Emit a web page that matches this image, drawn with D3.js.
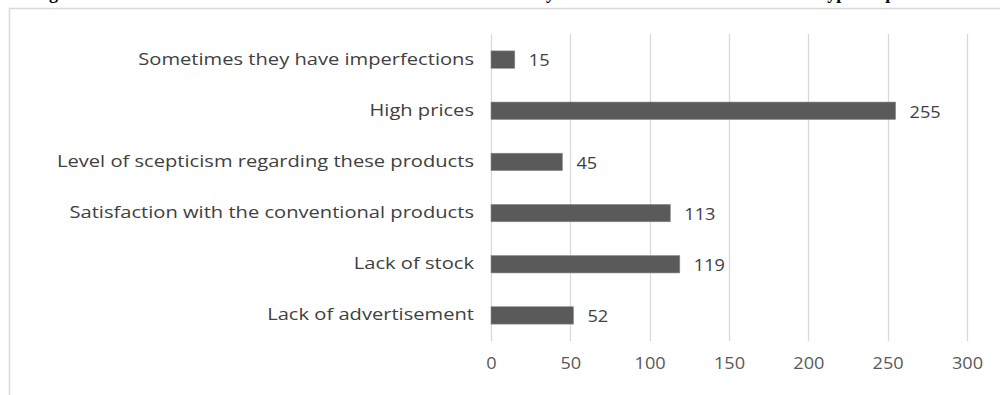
<!DOCTYPE html>
<html>
<head>
<meta charset="utf-8">
<script src="https://cdn.jsdelivr.net/npm/d3@7"></script>
<style>
  html, body { margin: 0; padding: 0; background: #fff; }
  svg { display: block; }
</style>
</head>
<body>
<div id="chart"></div>
<script>
// Reasons for not buying, number of respondents per reason
const categories = [
  "Sometimes they have imperfections",
  "High prices",
  "Level of scepticism regarding these products",
  "Satisfaction with the conventional products",
  "Lack of stock",
  "Lack of advertisement"
];
const values = [15, 255, 45, 113, 119, 52];
const xTicks = [0, 50, 100, 150, 200, 250, 300];
const titleText = "Figure 4: The main reasons and obstacles mentioned as indicated by the consumers in relation to these types of products";

const W = 1000, H = 395;
const svg = d3.select("#chart").append("svg")
  .attr("width", W).attr("height", H);

// Caption sits above the frame; only its descenders reach into the page
svg.append("text")
  .attr("x", 33).attr("y", -1)
  .attr("font-family", "Liberation Serif, serif")
  .attr("font-weight", "bold")
  .attr("font-size", 18)
  .attr("fill", "#000")
  .text(titleText);

// Chart frame
svg.append("path")
  .attr("d", `M9.5,${H} V8.5 H${W}`)
  .attr("fill", "none")
  .attr("stroke", "#d9d9d9")
  .attr("stroke-width", 1.5);

const x = d3.scaleLinear().domain([0, 300]).range([491, 967]);
const y = d3.scaleBand().domain(categories).range([34, 341]).paddingInner(0.66).paddingOuter(0.33);

const font = "Open Sans, sans-serif";
const fontSize = 16.5;

// Vertical gridlines
svg.append("g")
  .selectAll("line")
  .data(xTicks)
  .join("line")
  .attr("x1", d => Math.round(x(d)) + 0.5)
  .attr("x2", d => Math.round(x(d)) + 0.5)
  .attr("y1", 34).attr("y2", 341)
  .attr("stroke", "#d9d9d9")
  .attr("stroke-width", 1.3);

// X axis tick labels
const xAxis = d3.axisBottom(x).tickValues(xTicks).tickSize(0).tickPadding(0);
const gx = svg.append("g").attr("transform", "translate(0,357)").call(xAxis);
gx.select(".domain").remove();
gx.selectAll("text")
  .attr("font-family", font)
  .attr("font-size", fontSize)
  .attr("fill", "#595959")
  .attr("transform", "scale(1.1,1)");

// Category labels
const yAxis = d3.axisLeft(y).tickSize(0).tickPadding(0);
const gy = svg.append("g").attr("transform", "translate(474,0)").call(yAxis);
gy.select(".domain").remove();
gy.selectAll("text")
  .attr("font-family", font)
  .attr("font-size", fontSize)
  .attr("fill", "#404040")
  .attr("dy", "0.3em")
  .attr("transform", "scale(1.22,1)");

// Bars
svg.append("g")
  .selectAll("rect")
  .data(values)
  .join("rect")
  .attr("x", x(0))
  .attr("y", (d, i) => y(categories[i]))
  .attr("width", d => x(d) - x(0))
  .attr("height", y.bandwidth())
  .attr("fill", "#5a5a5a")
  .attr("stroke", "#8c8c8c")
  .attr("stroke-width", 0.6);

// Value labels
svg.append("g")
  .selectAll("text")
  .data(values)
  .join("text")
  .attr("transform", (d, i) =>
    `translate(${x(d) + 14},${y(categories[i]) + y.bandwidth() / 2 + 1}) scale(1.1,1)`)
  .attr("dy", "0.35em")
  .attr("font-family", font)
  .attr("font-size", fontSize)
  .attr("fill", "#404040")
  .text(d => d);
</script>
</body>
</html>
